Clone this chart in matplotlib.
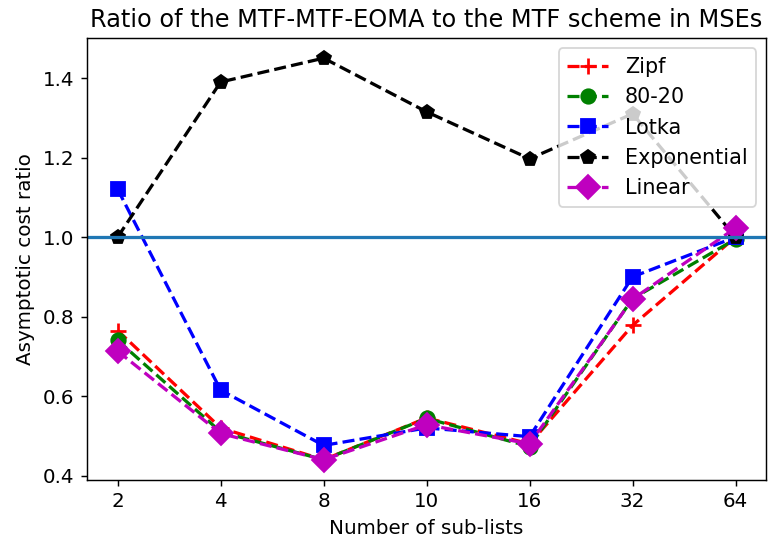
import matplotlib
matplotlib.use('Agg')
import matplotlib.pyplot as plt

sub_lists = ['2', '4', '8', '10', '16', '32', '64']

zipf = [0.765, 0.52, 0.44, 0.545, 0.48, 0.778, 1.0]
eighty_twenty = [0.74, 0.51, 0.44, 0.544, 0.473, 0.845, 0.995]
lotka = [1.12, 0.615, 0.476, 0.52, 0.498, 0.90, 1.0]
exponential = [1.0, 1.39, 1.45, 1.315, 1.197, 1.31, 1.0]
linear = [0.713, 0.506, 0.44, 0.528, 0.48, 0.844, 1.023]

plt.rcParams['font.size'] = 11
plt.rcParams['lines.linewidth'] = 1.8

fig, ax = plt.subplots(figsize=(768 / 130, 544 / 130), dpi=130)
fig.subplots_adjust(left=0.113, right=0.998, top=0.930, bottom=0.118)

x = range(len(sub_lists))
ax.plot(x, zipf, 'r+--', ms=9, mew=1.5, label='Zipf')
ax.plot(x, eighty_twenty, 'go--', ms=8, label='80-20')
ax.plot(x, lotka, 'bs--', ms=8, label='Lotka')
ax.plot(x, exponential, 'kp--', ms=8, label='Exponential')
ax.plot(x, linear, 'mD--', ms=9.5, label='Linear')
ax.axhline(1.0, color='C0')

ax.set_xticks(list(x))
ax.set_xticklabels(sub_lists)
ax.set_xlabel('Number of sub-lists')
ax.set_ylabel('Asymptotic cost ratio')
ax.set_title('Ratio of the MTF-MTF-EOMA to the MTF scheme in MSEs', fontsize=13.3)
ax.legend(loc='upper right', fontsize=11.5)

fig.savefig('out.png')
